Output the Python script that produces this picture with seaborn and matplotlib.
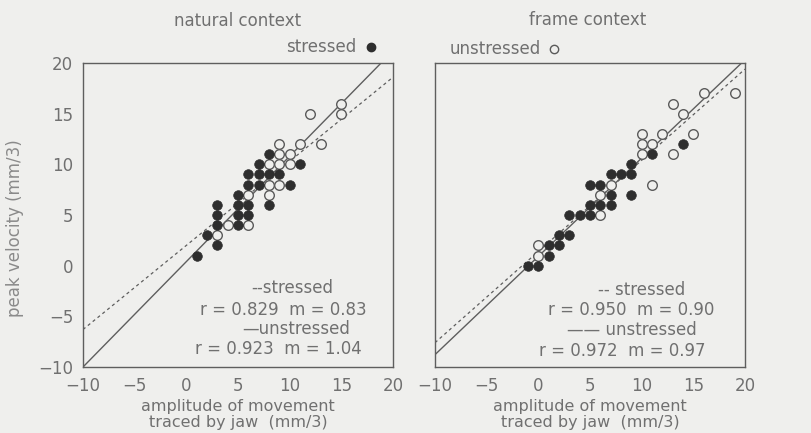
import matplotlib
matplotlib.use("Agg")
import matplotlib.pyplot as plt
from matplotlib.lines import Line2D
import seaborn as sns
import pandas as pd

sns.set_theme(style="white")
plt.rcParams['font.family'] = ['DejaVu Sans']

# ---------------- data ----------------
# natural context
nat_st_x = [1, 2, 3, 3, 3, 3, 5, 5, 5, 5, 6, 6, 6, 6, 7, 7, 7, 8, 8, 8, 9, 10, 11]
nat_st_y = [1, 3, 2, 4, 5, 6, 4, 5, 6, 7, 5, 6, 8, 9, 8, 9, 10, 6, 9, 11, 9, 8, 10]
nat_un_x = [3, 4, 6, 6, 8, 8, 9, 8, 9, 10, 9, 10, 9, 11, 13, 12, 15, 15]
nat_un_y = [3, 4, 4, 7, 7, 8, 8, 10, 10, 10, 11, 11, 12, 12, 12, 15, 15, 16]
# frame context
frm_st_x = [-1, 0, 1, 1, 2, 2, 3, 3, 4, 5, 5, 6, 7, 7, 9, 5, 6, 7, 8, 9, 9, 11, 14]
frm_st_y = [0, 0, 1, 2, 2, 3, 3, 5, 5, 5, 6, 6, 6, 7, 7, 8, 8, 9, 9, 9, 10, 11, 12]
frm_un_x = [0, 0, 6, 6, 7, 11, 10, 13, 10, 11, 10, 12, 15, 14, 13, 16, 19]
frm_un_y = [1, 2, 5, 7, 8, 8, 11, 11, 12, 12, 13, 13, 13, 15, 16, 17, 17]

# regression lines (slope m, intercept b)
nat_fit = {"stressed": (0.83, 2.0), "unstressed": (1.04, 0.4)}
frm_fit = {"stressed": (0.90, 1.4), "unstressed": (0.97, 0.92)}
nat_stats = {"stressed": (0.829, 0.83), "unstressed": (0.923, 1.04)}
frm_stats = {"stressed": (0.950, 0.90), "unstressed": (0.972, 0.97)}

ticks = [-10, -5, 0, 5, 10, 15, 20]
titles = ["natural context", "frame context"]

# ---------------- style ----------------
BG = "#efefed"
LINE = "#5e5e5e"
TXT = "#707070"
DARK = "#2e2e2e"

W, H = 812, 433
fig = plt.figure(figsize=(W / 100, H / 100), dpi=100, facecolor=BG)

def px(x, y):
    return x / W, 1 - y / H

ax_l = fig.add_axes([83 / W, 1 - 367 / H, 310 / W, 304 / H])
ax_r = fig.add_axes([435 / W, 1 - 367 / H, 310 / W, 304 / H])

def panel(ax, st_x, st_y, un_x, un_y, fit, show_ylabels):
    ax.set_facecolor(BG)
    df_s = pd.DataFrame({"x": st_x, "y": st_y})
    df_u = pd.DataFrame({"x": un_x, "y": un_y})
    sns.scatterplot(data=df_u, x="x", y="y", ax=ax, s=48, facecolor=BG,
                    edgecolor="#5a5a5a", linewidth=1.0, zorder=3)
    sns.scatterplot(data=df_s, x="x", y="y", ax=ax, s=48, color=DARK,
                    edgecolor=DARK, linewidth=0.5, zorder=4)
    m, b = fit["unstressed"]
    ax.axline((0, b), slope=m, color=LINE, lw=1.0, ls="-", zorder=2)
    m, b = fit["stressed"]
    ax.axline((0, b), slope=m, color=LINE, lw=0.9, ls=(0, (2.5, 2.5)), zorder=2)
    ax.set_xlim(-10, 20)
    ax.set_ylim(-10, 20)
    ax.set_xticks(ticks)
    ax.set_yticks(ticks)
    ax.set_xlabel("")
    ax.set_ylabel("")
    ax.tick_params(direction="inout", length=8, width=1.0, color=LINE,
                   labelcolor=TXT, labelsize=12, pad=3)
    if not show_ylabels:
        ax.set_yticklabels([])
    for sp in ax.spines.values():
        sp.set_color(LINE)
        sp.set_linewidth(1.0)

panel(ax_l, nat_st_x, nat_st_y, nat_un_x, nat_un_y, nat_fit, True)
panel(ax_r, frm_st_x, frm_st_y, frm_un_x, frm_un_y, frm_fit, False)

# titles
fig.text(*px(238, 21), titles[0], ha="center", va="center", color=TXT, fontsize=12)
fig.text(*px(588, 20), titles[1], ha="center", va="center", color=TXT, fontsize=12)

# key labels above panels
fig.text(*px(356, 47), "stressed", ha="right", va="center", color=TXT, fontsize=12)
fig.add_artist(Line2D([371 / W], [1 - 47 / H], marker="o", markersize=6.0,
                      color=DARK, transform=fig.transFigure))
fig.text(*px(541, 49), "unstressed", ha="right", va="center", color=TXT, fontsize=12)
fig.add_artist(Line2D([554 / W], [1 - 49 / H], marker="o", markersize=6.0,
                      markerfacecolor=BG, markeredgecolor="#5a5a5a",
                      markeredgewidth=1.0, color=BG, transform=fig.transFigure))

# statistics
def stats_block(cx, ys, stats, dash_lbl, solid_lbl):
    r, m = stats["stressed"]
    fig.text(*px(cx[0], ys[0]), dash_lbl, ha="center", va="center", color=TXT, fontsize=12)
    fig.text(*px(cx[1], ys[1]), f"r = {r:.3f}  m = {m:.2f}", ha="center", va="center",
             color=TXT, fontsize=12)
    r, m = stats["unstressed"]
    fig.text(*px(cx[2], ys[2]), solid_lbl, ha="center", va="center", color=TXT, fontsize=12)
    fig.text(*px(cx[3], ys[3]), f"r = {r:.3f}  m = {m:.2f}", ha="center", va="center",
             color=TXT, fontsize=12)

stats_block([292, 283, 296, 278], [288, 310, 329, 349], nat_stats,
            "--stressed", "—unstressed")
stats_block([642, 631, 632, 622], [290, 310, 330, 351], frm_stats,
            "-- stressed", "—— unstressed")

# axis labels
for cx in (238, 590):
    fig.text(*px(cx, 406), "amplitude of movement", ha="center", va="center",
             color=TXT, fontsize=11.5)
    fig.text(*px(cx, 423), "traced by jaw  (mm/3)", ha="center", va="center",
             color=TXT, fontsize=11.5)
fig.text(*px(15, 228), "peak velocity (mm/3)", ha="center", va="center",
         rotation=90, color="#8a8a8a", fontsize=12)

fig.savefig("out.png", dpi=100, facecolor=BG)
